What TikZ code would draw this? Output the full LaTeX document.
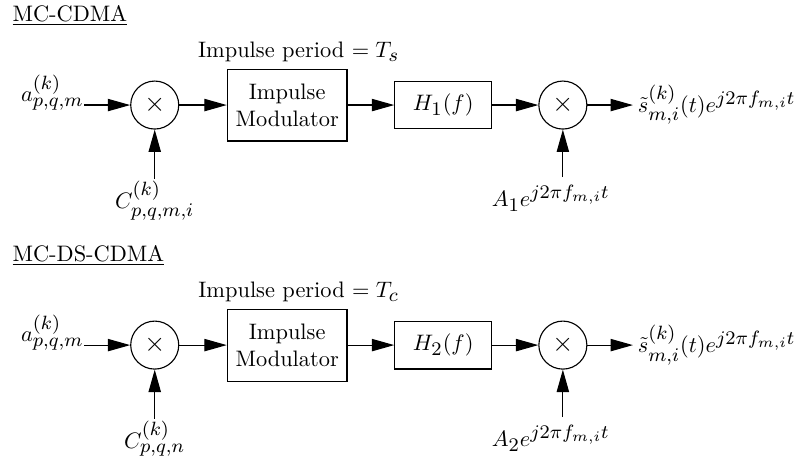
\RequirePackage{fix-cm}
\documentclass[tikz,border=0pt]{standalone}
\usepackage{amsmath, amssymb}
\usetikzlibrary{arrows.meta, positioning}
\DeclareMathSizes{10}{10}{8.6}{6.5}

\begin{document}
\begin{tikzpicture}[
  blk/.style={draw, line width=0.5pt, align=center},
  mix/.style={draw, circle, line width=0.5pt, minimum size=0.754cm, inner sep=0pt, font=\large},
  lbl/.style={inner sep=1pt},
  arr/.style={-{Triangle[length=10pt, width=5.5pt]}, line width=0.5pt}
]
  \useasboundingbox (0,0) rectangle (12.58,7.16);

  % MC-CDMA
  \node[anchor=base west, inner sep=0pt] (title1) at (0.19,6.83) {\underline{MC-CDMA}};
  \node[anchor=base, inner sep=0pt] (per1) at (4.69,6.25) {Impulse period $= T_s$};
  \node[anchor=base east, inner sep=0pt] (ain1) at (1.32,5.56) {$a^{(k)}_{p,q,m}$};
  \node[mix] (mulc1) at (2.43,5.51) {$\times$};
  \node[blk, minimum width=1.88cm, minimum height=1.13cm] (imp1) at (4.51,5.51) {Impulse\\Modulator};
  \node[blk, minimum width=1.52cm, minimum height=0.75cm] (filt1) at (6.96,5.51) {$H_1(f)$};
  \node[mix] (mulr1) at (8.84,5.51) {$\times$};
  \node[anchor=west, inner sep=2pt] (sout1) at (9.94,5.51) {$\tilde{s}^{(k)}_{m,i}(t)e^{j2\pi f_{m,i}t}$};
  \node[lbl, below=0.77cm of mulc1] (code1) {$C^{(k)}_{p,q,m,i}$};
  \node[anchor=north] (carr1) at (8.65,4.38) {$A_1e^{j2\pi f_{m,i}t}$};

  \draw[arr] (ain1.east |- mulc1) -- (mulc1);
  \draw[arr] (code1) -- (mulc1);
  \draw[arr] (mulc1) -- (imp1);
  \draw[arr] (imp1) -- (filt1);
  \draw[arr] (filt1) -- (mulr1);
  \draw[arr] (carr1.north -| mulr1) -- (mulr1);
  \draw[arr] (mulr1) -- (sout1);

  % MC-DS-CDMA
  \node[anchor=base west, inner sep=0pt] (title2) at (0.19,3.06) {\underline{MC-DS-CDMA}};
  \node[anchor=base, inner sep=0pt] (per2) at (4.69,2.48) {Impulse period $= T_c$};
  \node[anchor=base east, inner sep=0pt] (ain2) at (1.32,1.79) {$a^{(k)}_{p,q,m}$};
  \node[mix] (mulc2) at (2.43,1.74) {$\times$};
  \node[blk, minimum width=1.88cm, minimum height=1.13cm] (imp2) at (4.51,1.74) {Impulse\\Modulator};
  \node[blk, minimum width=1.52cm, minimum height=0.75cm] (filt2) at (6.96,1.74) {$H_2(f)$};
  \node[mix] (mulr2) at (8.84,1.74) {$\times$};
  \node[anchor=west, inner sep=2pt] (sout2) at (9.94,1.74) {$\tilde{s}^{(k)}_{m,i}(t)e^{j2\pi f_{m,i}t}$};
  \node[lbl, below=0.77cm of mulc2] (code2) {$C^{(k)}_{p,q,n}$};
  \node[anchor=north] (carr2) at (8.65,0.61) {$A_2e^{j2\pi f_{m,i}t}$};

  \draw[arr] (ain2.east |- mulc2) -- (mulc2);
  \draw[arr] (code2) -- (mulc2);
  \draw[arr] (mulc2) -- (imp2);
  \draw[arr] (imp2) -- (filt2);
  \draw[arr] (filt2) -- (mulr2);
  \draw[arr] (carr2.north -| mulr2) -- (mulr2);
  \draw[arr] (mulr2) -- (sout2);
\end{tikzpicture}
\end{document}
